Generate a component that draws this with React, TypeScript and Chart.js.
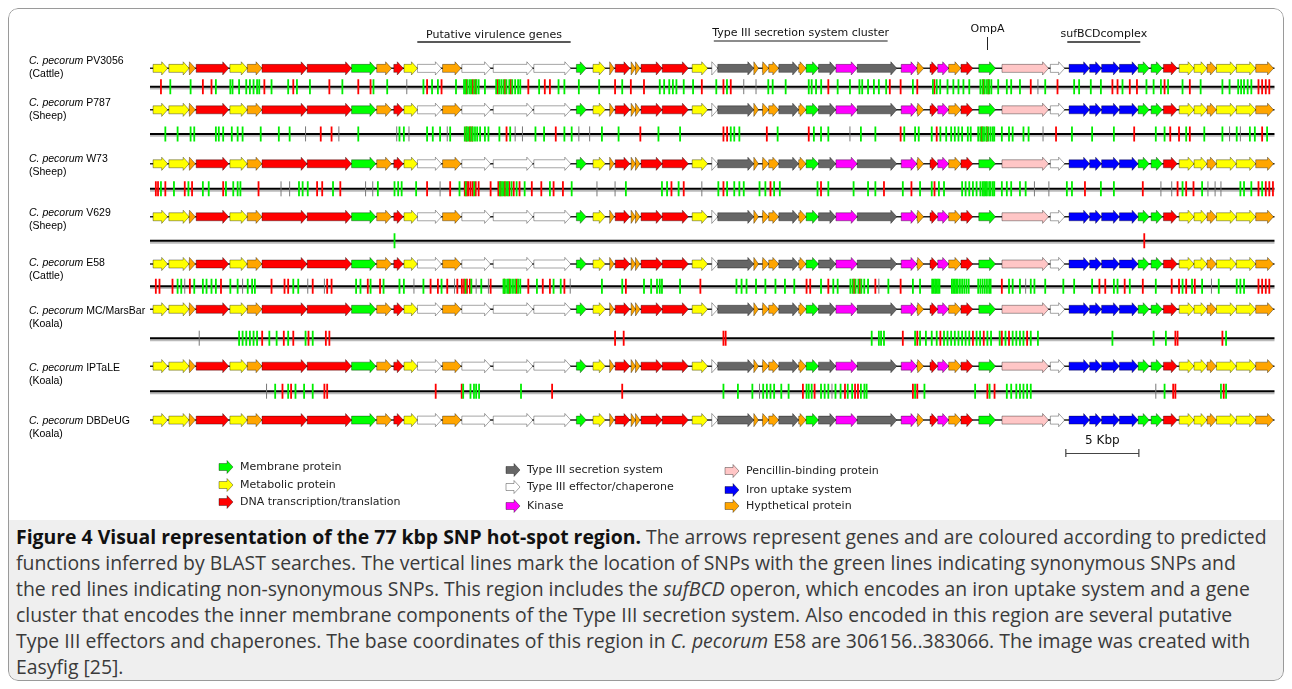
import React, { useEffect, useRef } from "react";
import { Chart, registerables } from "chart.js";

Chart.register(...registerables);

// ---------------- Gene map (positions in kbp along the 77 kbp region) ----------------
const geneStart = [0.21, 1.29, 2.68, 3.16, 5.47, 6.66, 7.67, 10.76, 13.8, 15.52, 16.69, 17.39, 18.31, 20.03, 21.35, 23.5, 26.28, 29.19, 30.33, 31.47, 31.85, 32.94, 33.24, 33.62, 35.07, 37.12, 38.46, 38.87, 41.34, 41.93, 42.36, 43.05, 44.41, 44.92, 45.77, 46.96, 48.42, 51.43, 52.51, 53.4, 53.93, 54.68, 55.52, 56.74, 58.33, 61.64, 62.92, 64.33, 65.15, 66.37, 67.65, 68.54, 69.38, 70.46, 71.48, 72.37, 73.01, 74.37, 75.7];
const geneEnd = [1.21, 2.68, 3.11, 5.39, 6.66, 7.67, 10.76, 13.8, 15.47, 16.54, 17.34, 18.31, 19.95, 21.29, 23.32, 26.21, 28.81, 29.87, 31.17, 31.78, 32.86, 33.24, 33.55, 35.07, 36.86, 38.18, 38.87, 41.34, 41.66, 42.36, 43.05, 44.41, 44.92, 45.77, 46.96, 48.42, 51.13, 52.51, 52.97, 53.93, 54.68, 55.52, 56.33, 57.89, 61.52, 62.62, 64.33, 65.15, 66.37, 67.65, 68.41, 69.31, 70.33, 71.48, 72.37, 73.01, 74.37, 75.7, 76.92];
const geneStrand = [1, -1, -1, 1, 1, 1, -1, -1, 1, -1, 1, -1, 1, 1, 1, -1, 1, -1, -1, -1, -1, -1, -1, -1, -1, 1, 1, 1, 1, 1, 1, 1, 1, 1, 1, 1, 1, -1, -1, -1, -1, -1, -1, -1, 1, 1, 1, 1, 1, 1, -1, -1, 1, -1, -1, 1, 1, 1, 1];
const geneCategory = ["Y", "Y", "O", "R", "Y", "O", "R", "R", "M", "O", "R", "Y", "W", "O", "W", "W", "W", "M", "Y", "O", "R", "O", "O", "R", "R", "Y", "W", "G", "O", "O", "O", "G", "O", "M", "G", "K", "G", "K", "O", "R", "K", "O", "R", "M", "P", "W", "B", "B", "B", "B", "M", "M", "R", "Y", "Y", "O", "Y", "Y", "O"];

const categoryCodes = ["M", "Y", "R", "G", "W", "K", "P", "B", "O"];
const categoryNames = ["Membrane protein", "Metabolic protein", "DNA transcription/translation", "Type III secretion system", "Type III effector/chaperone", "Kinase", "Pencillin-binding protein", "Iron uptake system", "Hypthetical protein"];
const categoryColors = ["#00ff00", "#ffff00", "#ff0000", "#666666", "#ffffff", "#ff00ff", "#ffc6c6", "#0000ff", "#ffa500"];

// ---------------- Strains ----------------
const strainNames = ["PV3056", "P787", "W73", "V629", "E58", "MC/MarsBar", "IPTaLE", "DBDeUG"];
const strainHosts = ["Cattle", "Sheep", "Sheep", "Sheep", "Cattle", "Koala", "Koala", "Koala"];

// ---------------- SNP positions (kbp) ----------------
const synPV3056 = [1.39, 2.78, 4.51, 5.5, 5.65, 6.1, 6.59, 6.84, 7.09, 7.33, 7.48, 8.32, 9.46, 10.06, 10.95, 13.17, 15.3, 16.24, 18.72, 19.31, 19.71, 20.95, 21.5, 21.6, 21.75, 21.9, 22.0, 22.2, 22.35, 22.5, 22.93, 23.7, 23.9, 24.05, 24.2, 24.4, 24.6, 24.8, 25.0, 25.2, 25.35, 26.64, 27.97, 28.37, 29.36, 30.75, 32.33, 34.9, 35.2, 35.55, 35.8, 36.04, 36.54, 37.18, 38.77, 39.5, 42.33, 42.63, 43.52, 45.1, 45.3, 45.6, 45.95, 47.08, 47.92, 48.57, 48.76, 49.16, 49.56, 49.9, 50.4, 52.23, 53.6, 53.86, 54.1, 54.6, 55.0, 55.35, 55.69, 56.09, 56.85, 57.0, 57.15, 57.3, 57.45, 57.6, 58.07, 58.66, 58.96, 59.56, 61.29, 63.27, 63.61, 64.41, 65.1, 66.58, 68.22, 68.71, 69.21, 69.7, 70.69, 71.93, 73.42, 73.91, 74.5, 74.7, 74.9, 75.15, 75.4];
const nonPV3056 = [0.75, 3.62, 4.21, 7.83, 9.81, 12.28, 14.26, 15.1, 18.97, 19.96, 21.65, 22.1, 22.3, 23.8, 24.3, 24.7, 25.9, 27.03, 27.38, 31.84, 32.92, 33.82, 37.78, 39.26, 39.76, 46.44, 50.65, 51.39, 52.53, 53.7, 57.05, 57.4, 60.3, 62.13, 65.89, 66.24, 67.08, 67.57, 69.46, 71.19, 75.89, 76.14, 76.39, 76.63];
const otherPV3056 = [17.58, 40.65, 41.49, 60.79];

const synP787 = [1.05, 1.89, 2.78, 3.03, 4.51, 4.71, 5.01, 5.6, 6.0, 6.34, 7.58, 8.82, 9.56, 14.26, 17.08, 17.38, 18.97, 19.36, 19.86, 20.55, 21.55, 21.7, 21.8, 21.95, 22.1, 22.25, 22.4, 22.6, 22.93, 23.17, 23.92, 24.66, 26.39, 26.98, 28.37, 28.87, 30.94, 32.08, 34.81, 36.29, 39.76, 40.0, 40.35, 42.97, 45.45, 45.94, 46.44, 48.67, 49.66, 51.64, 52.38, 52.63, 53.52, 54.11, 54.51, 54.85, 55.1, 55.35, 55.6, 55.99, 56.19, 56.7, 56.85, 57.0, 57.1, 57.25, 57.4, 57.55, 57.7, 57.8, 58.32, 58.81, 59.06, 59.8, 60.15, 63.12, 64.5, 65.99, 68.86, 69.46, 70.94, 72.18, 73.42, 74.4, 75.3, 75.64, 76.48];
const nonP787 = [11.69, 12.43, 21.65, 21.9, 22.05, 24.41, 27.78, 33.57, 39.26, 39.51, 42.23, 45.1, 51.39, 53.86, 56.95, 57.3, 62.03, 67.38, 69.85, 70.45, 71.19, 76.14];
const otherP787 = [10.65, 12.93, 16.89, 17.73, 20.35, 25.0, 25.5, 29.36, 30.1, 47.92, 61.14, 73.91, 74.65];

const synW73 = [0.75, 1.64, 2.63, 3.62, 4.02, 5.2, 5.7, 6.0, 6.19, 10.2, 10.45, 10.8, 12.53, 15.6, 16.74, 16.99, 17.23, 18.22, 21.19, 21.62, 22.2, 23.95, 24.1, 24.2, 24.4, 24.5, 24.75, 25.1, 25.65, 27.38, 28.87, 32.58, 35.05, 35.4, 36.19, 38.91, 39.51, 40.0, 40.35, 40.65, 41.73, 42.13, 42.73, 43.12, 45.7, 46.44, 48.17, 49.16, 49.66, 51.54, 52.72, 53.52, 54.01, 54.36, 55.6, 55.84, 56.09, 56.34, 56.59, 56.85, 57.0, 57.1, 57.2, 57.3, 57.45, 57.55, 57.7, 57.8, 58.32, 58.66, 58.96, 59.56, 59.95, 62.77, 63.12, 65.1, 65.99, 70.69, 72.03, 74.65, 74.9, 75.4, 76.14];
const nonW73 = [0.4, 0.55, 1.05, 2.38, 2.88, 5.01, 7.43, 11.44, 11.79, 13.03, 18.97, 20.55, 21.55, 21.7, 21.8, 21.95, 22.1, 22.3, 22.5, 23.32, 23.85, 24.0, 24.3, 24.6, 24.9, 25.3, 26.14, 26.79, 27.63, 28.27, 35.7, 36.54, 39.26, 42.48, 45.94, 50.25, 52.13, 53.71, 64.01, 67.97, 70.35, 70.94, 71.44, 75.89, 76.39, 76.63, 76.88];
const otherW73 = [8.97, 9.56, 14.76, 15.25, 19.86, 30.6, 31.84, 37.78, 60.55, 61.54, 69.21, 69.95, 72.43, 72.92, 73.32];

const synV629 = [16.74];
const nonV629 = [68.07];
const otherV629: number[] = [];

const synE58 = [1.89, 2.14, 3.03, 3.62, 3.87, 4.21, 4.51, 5.5, 6.0, 6.69, 6.99, 7.18, 9.81, 10.15, 14.11, 14.41, 15.1, 15.99, 17.08, 17.38, 18.72, 19.96, 21.6, 22.0, 22.68, 24.2, 24.3, 24.45, 24.55, 24.7, 24.85, 25.0, 25.2, 25.35, 26.49, 27.63, 28.12, 30.94, 32.33, 33.82, 34.31, 34.71, 34.9, 35.05, 36.29, 40.15, 40.5, 40.84, 41.49, 42.13, 42.82, 43.47, 44.11, 45.94, 46.78, 47.08, 47.95, 48.1, 48.3, 48.5, 48.7, 48.9, 49.16, 50.55, 52.23, 52.72, 53.55, 53.65, 53.75, 53.85, 53.95, 54.05, 54.9, 55.0, 55.1, 55.2, 55.3, 55.45, 55.6, 55.75, 55.9, 56.05, 56.7, 56.85, 57.0, 57.15, 57.3, 57.45, 57.55, 58.81, 59.06, 59.56, 60.3, 60.55, 61.29, 62.53, 63.27, 64.5, 65.99, 66.24, 67.08, 68.86, 70.69, 71.34, 72.03, 73.17, 74.4, 74.65, 74.9];
const nonE58 = [0.4, 0.65, 1.54, 2.73, 4.86, 8.32, 9.21, 9.46, 11.14, 12.13, 12.43, 14.91, 15.75, 19.21, 19.71, 20.35, 21.04, 21.35, 21.5, 21.7, 21.9, 23.32, 24.25, 24.6, 25.1, 25.9, 26.89, 27.38, 28.37, 32.58, 37.68, 44.95, 45.2, 46.44, 48.2, 48.6, 49.66, 51.39, 58.32, 65.0, 65.4, 66.73, 67.97, 69.95, 70.45, 70.94, 71.53, 75.89, 76.14, 76.39, 76.63];
const otherE58 = [2.38, 6.34, 10.8, 11.94, 18.07, 20.85, 22.33, 23.17, 28.77, 49.9, 59.95, 72.67];

const synMC = [6.1, 6.34, 6.59, 6.84, 7.09, 7.33, 8.17, 8.67, 9.46, 10.65, 11.14, 49.41, 49.9, 50.05, 50.25, 52.38, 52.72, 53.12, 53.52, 53.86, 54.36, 54.6, 54.85, 55.1, 55.35, 55.6, 55.84, 56.09, 56.59, 56.83, 57.33, 57.58, 58.17, 58.57, 59.06, 59.31, 59.56, 59.8, 60.3, 60.79, 65.89, 68.71, 69.55, 73.67];
const nonMC = [7.68, 9.16, 9.81, 10.85, 12.04, 12.28, 31.84, 32.43, 39.26, 39.41, 51.54, 52.53, 54.11, 56.34, 57.08, 58.32, 58.81, 60.05, 70.2, 70.35, 73.42];
const otherMC = [3.37];

const synIPTaLE = [8.57, 9.46, 9.96, 10.55, 11.14, 21.44, 21.94, 22.18, 22.33, 22.53, 25.4, 39.26, 40.25, 41.24, 41.98, 42.23, 42.48, 42.73, 43.22, 43.72, 44.95, 45.1, 45.3, 45.94, 46.19, 46.44, 46.93, 47.28, 47.77, 48.07, 48.67, 48.91, 49.06, 52.38, 53.02, 56.49, 57.48, 58.66, 58.96, 59.31, 59.56, 59.8, 60.05, 60.3, 69.46, 73.32, 73.67];
const nonIPTaLE = [9.07, 9.66, 11.94, 12.13, 19.56, 21.34, 27.53, 32.33, 44.7, 45.5, 47.58, 48.27, 48.47, 52.23, 52.53, 57.33, 57.82, 70.05, 70.2, 73.51];
const otherIPTaLE = [7.98, 41.73, 46.69, 68.86];

const snpSynRows = [synPV3056, synP787, synW73, synV629, synE58, synMC, synIPTaLE];
const snpNonRows = [nonPV3056, nonP787, nonW73, nonV629, nonE58, nonMC, nonIPTaLE];
const snpOtherRows = [otherPV3056, otherP787, otherW73, otherV629, otherE58, otherMC, otherIPTaLE];

// ---------------- Annotations ----------------
const headerLabels = ["Putative virulence genes", "Type III secretion system cluster", "sufBCDcomplex"];
const headerStart = [18.3, 38.6, 62.8];
const headerEnd = [28.8, 50.5, 67.8];
const ompALabel = "OmpA";
const ompAPos = 57.3;
const scaleBarStart = 62.7;
const scaleBarKbp = 5;
const regionKbp = 77;

// ---------------- Layout (canvas pixels) ----------------
const CW = 1276;
const CH = 512;
const geneTrackY = [53, 96, 152, 207, 256, 303, 362, 418];
const snpTrackY = [72, 121, 178, 232, 279, 333, 388];
const labelTopY = [53, 95, 151, 205, 255, 303, 360, 413];

function arrowPath(ctx: CanvasRenderingContext2D, from: number, to: number, y: number, bodyHalf: number, headHalf: number, headLen: number) {
  const dir = to >= from ? 1 : -1;
  const len = Math.abs(to - from);
  const hl = Math.min(headLen, len);
  const neck = to - dir * hl;
  ctx.beginPath();
  ctx.moveTo(from, y - bodyHalf);
  ctx.lineTo(neck, y - bodyHalf);
  ctx.lineTo(neck, y - headHalf);
  ctx.lineTo(to, y);
  ctx.lineTo(neck, y + headHalf);
  ctx.lineTo(neck, y + bodyHalf);
  ctx.lineTo(from, y + bodyHalf);
  ctx.closePath();
}

const geneArrowPlugin = {
  id: "geneArrows",
  beforeDatasetDraw(chart: any, args: any) {
    if (args.meta.type !== "bar") return;
    const ctx: CanvasRenderingContext2D = chart.ctx;
    ctx.save();
    args.meta.data.forEach((el: any) => {
      const half = el.height / 2;
      arrowPath(ctx, el.base, el.x, el.y, half, half * 1.65, 6);
      ctx.fillStyle = el.options.backgroundColor;
      ctx.fill();
      ctx.lineWidth = 0.8;
      ctx.strokeStyle = el.options.borderColor;
      ctx.stroke();
    });
    ctx.restore();
    return false;
  },
};

const annotationPlugin = {
  id: "annotations",
  afterDraw(chart: any) {
    const ctx: CanvasRenderingContext2D = chart.ctx;
    const xs = chart.scales.x;
    ctx.save();
    // header labels
    ctx.font = '11px "DejaVu Sans"';
    ctx.fillStyle = "#111";
    ctx.textAlign = "center";
    ctx.textBaseline = "middle";
    const textY = [27, 25, 26];
    const lineY = [34, 33, 34];
    headerLabels.forEach((t, i) => {
      const x0 = xs.getPixelForValue(headerStart[i]);
      const x1 = xs.getPixelForValue(headerEnd[i]);
      ctx.fillText(t, (x0 + x1) / 2, textY[i]);
      ctx.beginPath();
      ctx.strokeStyle = i === 1 ? "#666" : "#222";
      ctx.lineWidth = 1.5;
      ctx.moveTo(x0, lineY[i]);
      ctx.lineTo(x1, lineY[i]);
      ctx.stroke();
    });
    const ox = Math.round(xs.getPixelForValue(ompAPos)) + 0.5;
    ctx.fillText(ompALabel, ox, 21);
    ctx.beginPath();
    ctx.strokeStyle = "#222";
    ctx.lineWidth = 1;
    ctx.moveTo(ox, 29);
    ctx.lineTo(ox, 42);
    ctx.stroke();

    // scale bar
    const s0 = xs.getPixelForValue(scaleBarStart);
    const s1 = xs.getPixelForValue(scaleBarStart + scaleBarKbp);
    ctx.font = '12px "DejaVu Sans"';
    ctx.fillStyle = "#111";
    ctx.fillText(scaleBarKbp + " Kbp", (s0 + s1) / 2, 433);
    ctx.beginPath();
    ctx.strokeStyle = "#444";
    ctx.lineWidth = 1.2;
    ctx.moveTo(s0, 445.5);
    ctx.lineTo(s1, 445.5);
    ctx.moveTo(s0, 441);
    ctx.lineTo(s0, 449);
    ctx.moveTo(s1, 441);
    ctx.lineTo(s1, 449);
    ctx.stroke();

    // legend
    const colIconX = [211, 498, 717];
    const rowY = [
      [459, 477, 494],
      [462, 479, 498],
      [463, 482, 498],
    ];
    ctx.font = '11px "DejaVu Sans"';
    ctx.textAlign = "left";
    categoryNames.forEach((name, i) => {
      const c = Math.floor(i / 3);
      const r = i % 3;
      const ix = colIconX[c];
      const iy = rowY[c][r];
      arrowPath(ctx, ix, ix + 14, iy, 3.5, 6.5, 6);
      ctx.fillStyle = categoryColors[i];
      ctx.fill();
      ctx.lineWidth = 0.8;
      ctx.strokeStyle = "rgba(0,0,0,0.45)";
      ctx.stroke();
      ctx.fillStyle = "#222";
      ctx.fillText(name, ix + 21, iy);
    });
    ctx.restore();
  },
};

function buildConfig(): any {
  const geneData: any[] = [];
  const geneColors: string[] = [];
  geneTrackY.forEach((y) => {
    geneStart.forEach((s, g) => {
      const e = geneEnd[g];
      geneData.push({ x: geneStrand[g] > 0 ? [s, e] : [e, s], y });
      geneColors.push(categoryColors[categoryCodes.indexOf(geneCategory[g])]);
    });
  });

  const snpPoints = (rows: number[][]) => {
    const pts: any[] = [];
    rows.forEach((row, r) => row.forEach((x) => pts.push({ x, y: snpTrackY[r] })));
    return pts;
  };

  const snpStyle = (color: string, width: number, order: number) => ({
    type: "scatter",
    pointStyle: "line",
    rotation: 90,
    radius: 7.5,
    hoverRadius: 7.5,
    borderColor: color,
    backgroundColor: color,
    borderWidth: width,
    order,
  });

  const datasets: any[] = [
    {
      type: "bar",
      label: "genes",
      indexAxis: "y",
      data: geneData,
      backgroundColor: geneColors,
      borderColor: "rgba(0,0,0,0.45)",
      barThickness: 8,
      grouped: false,
      order: 0,
    },
    { ...snpStyle("#00ee00", 1.8, 1), label: "synonymous", data: snpPoints(snpSynRows) },
    { ...snpStyle("#ff0000", 1.8, 2), label: "non-synonymous", data: snpPoints(snpNonRows) },
    { ...snpStyle("#777777", 1, 3), label: "other", data: snpPoints(snpOtherRows) },
  ];

  geneTrackY.forEach((y) => {
    datasets.push({
      type: "line",
      data: [{ x: 0, y }, { x: regionKbp, y }],
      borderColor: "#222",
      borderWidth: 1.5,
      pointRadius: 0,
      order: 5,
    });
  });
  snpTrackY.forEach((y) => {
    datasets.push({
      type: "line",
      data: [{ x: 0, y }, { x: regionKbp, y }],
      borderColor: "#000",
      borderWidth: 2,
      pointRadius: 0,
      order: 5,
    });
    datasets.push({
      type: "line",
      data: [{ x: 0, y: y + 2 }, { x: regionKbp, y: y + 2 }],
      borderColor: "#bbbbbb",
      borderWidth: 2,
      pointRadius: 0,
      order: 6,
    });
  });

  return {
    type: "scatter",
    data: { datasets },
    options: {
      animation: false,
      responsive: false,
      maintainAspectRatio: false,
      events: [],
      layout: { padding: { left: 142, right: 9, top: 0, bottom: 0 } },
      scales: {
        x: { type: "linear", min: 0, max: regionKbp, display: false, offset: false },
        y: { type: "linear", min: 0, max: CH, reverse: true, display: false, offset: false },
      },
      plugins: { legend: { display: false }, tooltip: { enabled: false } },
    },
    plugins: [geneArrowPlugin, annotationPlugin],
  };
}

export default function App() {
  const ref = useRef<HTMLCanvasElement>(null);
  useEffect(() => {
    if (!ref.current) return;
    const chart = new Chart(ref.current, buildConfig());
    return () => chart.destroy();
  }, []);

  return (
    <div
      style={{
        position: "relative",
        width: 1276,
        height: 673,
        borderRadius: 10,
        overflow: "hidden",
        background: "#fff",
      }}
    >
      <canvas ref={ref} width={CW} height={CH} style={{ position: "absolute", left: 0, top: 0, width: CW, height: CH }} />
      {strainNames.map((s, i) => (
        <div
          key={s}
          style={{
            position: "absolute",
            left: 21,
            top: labelTopY[i] - 7,
            font: '10.5px/13px "Liberation Sans", Arial, sans-serif',
            color: "#000",
            whiteSpace: "nowrap",
          }}
        >
          <i>C. pecorum</i> {s}
          <br />({strainHosts[i]})
        </div>
      ))}
      <div
        style={{
          position: "absolute",
          left: 0,
          top: 512,
          width: 1276,
          height: 161,
          background: "#efefef",
          boxSizing: "border-box",
          padding: "4px 0 0 8px",
          font: '19.4px/26px "Open Sans", sans-serif',
          color: "#3a3a3a",
          whiteSpace: "nowrap",
        }}
      >
        <b style={{ color: "#111" }}>Figure 4 Visual representation of the 77 kbp SNP hot-spot region.</b> The arrows represent genes and are coloured according to predicted
        <br />
        functions inferred by BLAST searches. The vertical lines mark the location of SNPs with the green lines indicating synonymous SNPs and
        <br />
        the red lines indicating non-synonymous SNPs. This region includes the <i>sufBCD</i> operon, which encodes an iron uptake system and a gene
        <br />
        cluster that encodes the inner membrane components of the Type III secretion system. Also encoded in this region are several putative
        <br />
        Type III effectors and chaperones. The base coordinates of this region in <i>C. pecorum</i> E58 are 306156..383066. The image was created with
        <br />
        Easyfig [25].
      </div>
      <div
        style={{
          position: "absolute",
          left: 0,
          top: 0,
          right: 0,
          bottom: 0,
          border: "1px solid #9a9a9a",
          borderRadius: 10,
          pointerEvents: "none",
        }}
      />
    </div>
  );
}
